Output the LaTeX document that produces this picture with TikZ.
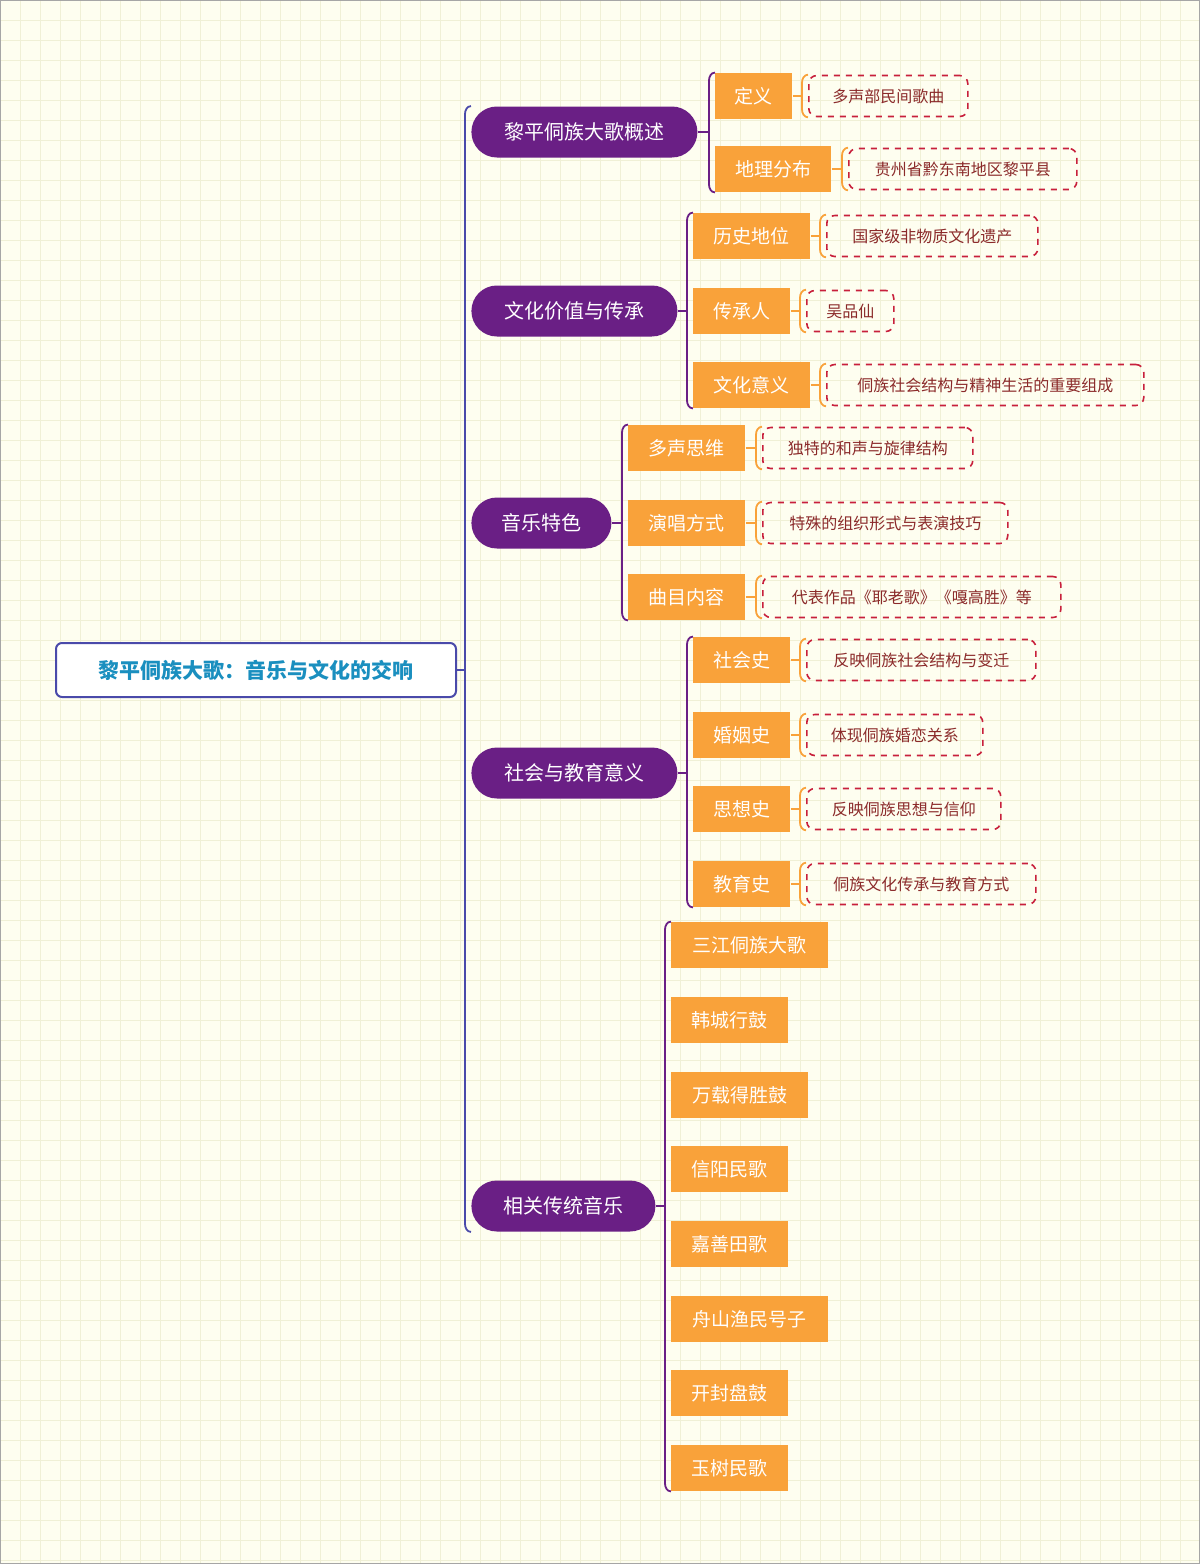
\documentclass[tikz,border=0pt]{standalone}
\usepackage{fontspec}
\setmainfont{Noto Sans CJK SC}
\usetikzlibrary{calc}
\definecolor{purp}{HTML}{6A1F85}
\definecolor{orng}{HTML}{F9A23A}
\definecolor{leafred}{HTML}{C8203C}
\definecolor{leaftxt}{HTML}{8B2A2A}
\definecolor{roottxt}{HTML}{1A8FBF}
\definecolor{rootln}{HTML}{4A4AAA}
\definecolor{bg}{HTML}{FEFEF0}
\definecolor{gridc}{HTML}{F0F0D6}
\tikzset{
 rootbox/.style={draw=rootln,line width=1pt,rounded corners=3pt,fill=white,text=roottxt,font=\fontsize{10.5}{12}\selectfont\bfseries,minimum width=200pt,minimum height=27pt,anchor=west},
 mainbox/.style={fill=purp,text=white,rounded corners=12.75pt,font=\fontsize{10}{12}\selectfont,minimum width=#1,minimum height=25.5pt,anchor=west,inner sep=0pt},
 subbox/.style={fill=orng,text=white,font=\fontsize{9.5}{11}\selectfont,minimum width=#1,minimum height=23pt,anchor=west,inner sep=0pt},
 leafbox/.style={draw=leafred,dashed,line width=0.8pt,rounded corners=4pt,text=leaftxt,font=\fontsize{8}{10}\selectfont,minimum width=#1,minimum height=20.5pt,anchor=west,inner sep=0pt},
 brk/.style={line width=0.9pt}
}
\newcommand\mybrk[4]{%
 \path (#2.north west) ++(-6,0) coordinate (bt);
 \path (#3.south west) ++(-6,0) coordinate (bb);
 \draw[brk,#4] (#2.north west) to[out=180,in=90] ($(bt)+(0,8)$) -- ($(bb)+(0,-8)$) to[out=-90,in=180] (#3.south west);
 \draw[brk,#4] (#1.east) -- (bt|-#1.east);
}
\begin{document}
\begin{tikzpicture}[x=0.5pt,y=-0.5pt]
\useasboundingbox (0,0) rectangle (1200,1564);
\fill[bg] (0,0) rectangle (1200,1564);
\begin{scope}
\clip (0,0) rectangle (1200,1564);
\draw[gridc,line width=0.5pt,step=10pt] (0,0) grid (1200,1564);
\end{scope}
\draw[gray!70,line width=0.8pt] (0.5,0.5) rectangle (1199.5,1563.5);

\node[rootbox] (root) at (55,670) {黎平侗族大歌：音乐与文化的交响};

\node[mainbox=113pt] (m1) at (471,132) {黎平侗族大歌概述};
\node[mainbox=103pt] (m2) at (471,311) {文化价值与传承};
\node[mainbox=70pt] (m3) at (471,523) {音乐特色};
\node[mainbox=103pt] (m4) at (471,773) {社会与教育意义};
\node[mainbox=92pt] (m5) at (471,1206) {相关传统音乐};

\node[subbox=38.5pt] (s11) at (715,96) {定义};
\node[subbox=58pt] (s12) at (715,169) {地理分布};
\node[subbox=58.5pt] (s21) at (693,236) {历史地位};
\node[subbox=48.5pt] (s22) at (693,311) {传承人};
\node[subbox=58.5pt] (s23) at (693,385) {文化意义};
\node[subbox=58.5pt] (s31) at (628,448) {多声思维};
\node[subbox=58.5pt] (s32) at (628,523) {演唱方式};
\node[subbox=58.5pt] (s33) at (628,597) {曲目内容};
\node[subbox=48.5pt] (s41) at (693,660) {社会史};
\node[subbox=48.5pt] (s42) at (693,735) {婚姻史};
\node[subbox=48.5pt] (s43) at (693,809) {思想史};
\node[subbox=48.5pt] (s44) at (693,884) {教育史};
\node[subbox=78.5pt] (s51) at (671,945) {三江侗族大歌};
\node[subbox=58.5pt] (s52) at (671,1020) {韩城行鼓};
\node[subbox=68.5pt] (s53) at (671,1095) {万载得胜鼓};
\node[subbox=58.5pt] (s54) at (671,1169) {信阳民歌};
\node[subbox=58.5pt] (s55) at (671,1244) {嘉善田歌};
\node[subbox=78.5pt] (s56) at (671,1319) {舟山渔民号子};
\node[subbox=58.5pt] (s57) at (671,1393) {开封盘鼓};
\node[subbox=58.5pt] (s58) at (671,1468) {玉树民歌};

\node[leafbox=79.5pt] (l11) at (808,96) {多声部民间歌曲};
\node[leafbox=114pt] (l12) at (848,169) {贵州省黔东南地区黎平县};
\node[leafbox=105.5pt] (l21) at (826,236) {国家级非物质文化遗产};
\node[leafbox=43.5pt] (l22) at (806,311) {吴品仙};
\node[leafbox=158.5pt] (l23) at (826,385) {侗族社会结构与精神生活的重要组成};
\node[leafbox=105pt] (l31) at (762,448) {独特的和声与旋律结构};
\node[leafbox=122.5pt] (l32) at (762,523) {特殊的组织形式与表演技巧};
\node[leafbox=149pt] (l33) at (762,597) {代表作品《耶老歌》《嘎高胜》等};
\node[leafbox=114.5pt] (l41) at (806,660) {反映侗族社会结构与变迁};
\node[leafbox=88pt] (l42) at (806,735) {体现侗族婚恋关系};
\node[leafbox=97pt] (l43) at (806,809) {反映侗族思想与信仰};
\node[leafbox=114.5pt] (l44) at (806,884) {侗族文化传承与教育方式};

\mybrk{root}{m1}{m5}{rootln}
\mybrk{m1}{s11}{s12}{purp}
\mybrk{m2}{s21}{s23}{purp}
\mybrk{m3}{s31}{s33}{purp}
\mybrk{m4}{s41}{s44}{purp}
\mybrk{m5}{s51}{s58}{purp}
\foreach \s/\l in {s11/l11,s12/l12,s21/l21,s22/l22,s23/l23,s31/l31,s32/l32,s33/l33,s41/l41,s42/l42,s43/l43,s44/l44}{
 \mybrk{\s}{\l}{\l}{orng}
}
\end{tikzpicture}
\end{document}
